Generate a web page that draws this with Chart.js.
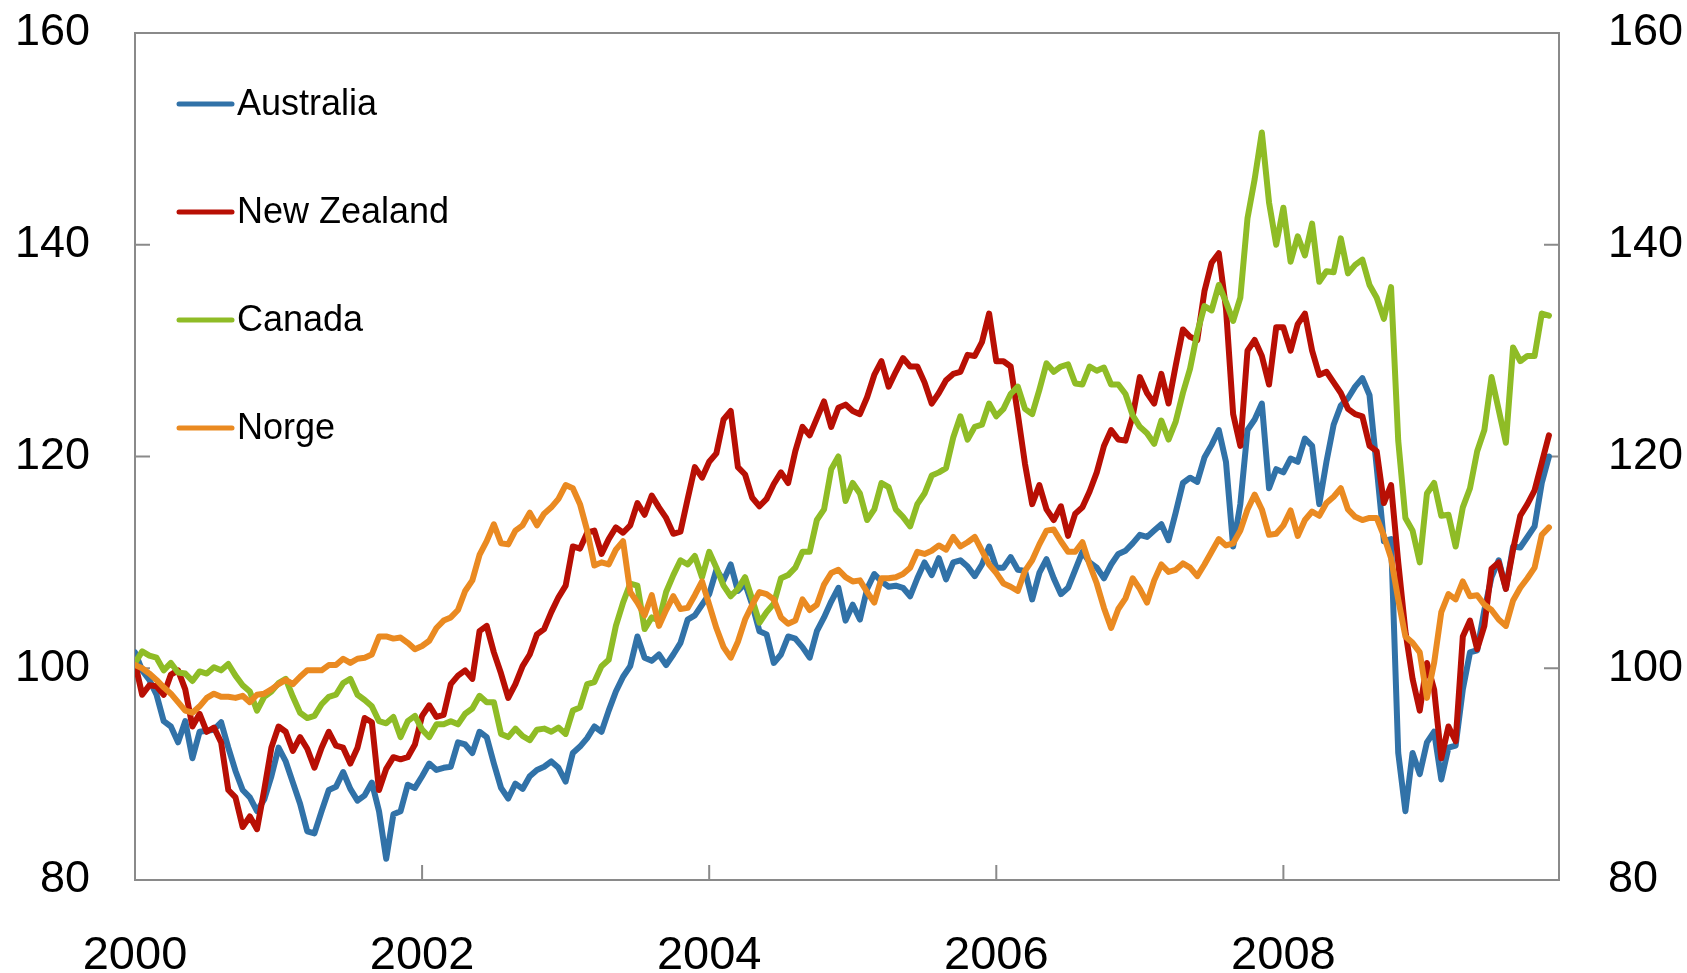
<!DOCTYPE html>
<html>
<head>
<meta charset="utf-8">
<style>
  html, body { margin: 0; padding: 0; background: #fff; }
  #wrap { width: 1687px; height: 973px; }
</style>
<script src="https://cdn.jsdelivr.net/npm/chart.js@4.4.1/dist/chart.umd.min.js"></script>
</head>
<body>
<div id="wrap"><canvas id="chart" width="1687" height="973"></canvas></div>
<script>
// sample dates as decimal years (about every 2.6 weeks)
const dates = [
  2000, 2000.05, 2000.1, 2000.15, 2000.2, 2000.25, 2000.3, 2000.35, 2000.4, 2000.45, 2000.5, 2000.55, 2000.6, 2000.65, 2000.7, 2000.75, 2000.8, 2000.85, 2000.9, 2000.95,
  2001, 2001.05, 2001.1, 2001.15, 2001.2, 2001.25, 2001.3, 2001.35, 2001.4, 2001.45, 2001.5, 2001.55, 2001.6, 2001.65, 2001.7, 2001.75, 2001.8, 2001.85, 2001.9, 2001.95,
  2002, 2002.05, 2002.1, 2002.15, 2002.2, 2002.25, 2002.3, 2002.35, 2002.4, 2002.45, 2002.5, 2002.55, 2002.6, 2002.65, 2002.7, 2002.75, 2002.8, 2002.85, 2002.9, 2002.95,
  2003, 2003.05, 2003.1, 2003.15, 2003.2, 2003.25, 2003.3, 2003.35, 2003.4, 2003.45, 2003.5, 2003.55, 2003.6, 2003.65, 2003.7, 2003.75, 2003.8, 2003.85, 2003.9, 2003.95,
  2004, 2004.05, 2004.1, 2004.15, 2004.2, 2004.25, 2004.3, 2004.35, 2004.4, 2004.45, 2004.5, 2004.55, 2004.6, 2004.65, 2004.7, 2004.75, 2004.8, 2004.85, 2004.9, 2004.95,
  2005, 2005.05, 2005.1, 2005.15, 2005.2, 2005.25, 2005.3, 2005.35, 2005.4, 2005.45, 2005.5, 2005.55, 2005.6, 2005.65, 2005.7, 2005.75, 2005.8, 2005.85, 2005.9, 2005.95,
  2006, 2006.05, 2006.1, 2006.15, 2006.2, 2006.25, 2006.3, 2006.35, 2006.4, 2006.45, 2006.5, 2006.55, 2006.6, 2006.65, 2006.7, 2006.75, 2006.8, 2006.85, 2006.9, 2006.95,
  2007, 2007.05, 2007.1, 2007.15, 2007.2, 2007.25, 2007.3, 2007.35, 2007.4, 2007.45, 2007.5, 2007.55, 2007.6, 2007.65, 2007.7, 2007.75, 2007.8, 2007.85, 2007.9, 2007.95,
  2008, 2008.05, 2008.1, 2008.15, 2008.2, 2008.25, 2008.3, 2008.35, 2008.4, 2008.45, 2008.5, 2008.55, 2008.6, 2008.65, 2008.7, 2008.75, 2008.8, 2008.85, 2008.9, 2008.95,
  2009, 2009.05, 2009.1, 2009.15, 2009.2, 2009.25, 2009.3, 2009.35, 2009.4, 2009.45, 2009.5, 2009.55, 2009.6, 2009.65, 2009.7, 2009.75, 2009.8, 2009.85
];

const australia = [
  101.5, 99.8, 98.9, 97.5, 95, 94.5, 93, 95, 91.5, 94, 94.1, 94.2, 94.9, 92.5, 90.3, 88.5, 87.8, 86.5, 87.6, 89.8,
  92.5, 91.2, 89.2, 87.2, 84.6, 84.4, 86.5, 88.5, 88.8, 90.2, 88.6, 87.5, 88, 89.2, 86.5, 82, 86.2, 86.5, 89, 88.7,
  89.8, 91, 90.4, 90.6, 90.7, 93, 92.8, 92, 94, 93.5, 91, 88.7, 87.7, 89.1, 88.6, 89.8, 90.4, 90.7, 91.2, 90.6,
  89.3, 92, 92.6, 93.4, 94.5, 94, 96, 97.8, 99.2, 100.2, 103, 101, 100.7, 101.3, 100.3, 101.3, 102.4, 104.6, 105, 106,
  107, 109.3, 108.3, 109.8, 107.3, 108, 106, 103.5, 103.2, 100.5, 101.3, 103, 102.8, 102, 101, 103.5, 104.8, 106.3, 107.6, 104.5,
  106, 104.6, 107.5, 108.9, 108.2, 107.7, 107.8, 107.6, 106.8, 108.5, 110, 108.8, 110.4, 108.4, 110, 110.2, 109.6, 108.7, 109.8, 111.5,
  109.5, 109.5, 110.5, 109.3, 109.2, 106.5, 109, 110.3, 108.5, 107, 107.6, 109.3, 111, 110, 109.5, 108.5, 109.8, 110.8, 111.1, 111.8,
  112.6, 112.4, 113, 113.6, 112.1, 114.7, 117.5, 118, 117.6, 119.9, 121.1, 122.5, 119.5, 111.5, 115.5, 122.5, 123.5, 125, 117, 118.8,
  118.5, 119.8, 119.5, 121.7, 121, 115.5, 119.5, 123, 124.8, 125.5, 126.6, 127.4, 125.8, 119, 112, 112.2, 92, 86.5, 92, 90,
  93, 94, 89.5, 92.5, 92.7, 98, 101.5, 101.7, 105.5, 108.6, 110.2, 107.5, 111.5, 111.4, 112.4, 113.4, 117.5, 120
];

const newZealand = [
  100.5, 97.5, 98.4, 98.3, 97.5, 99.4, 99.8, 98, 94.5, 95.7, 94, 94.4, 93, 88.5, 87.8, 85, 86, 84.8, 88.5, 92.5,
  94.5, 94, 92.2, 93.5, 92.4, 90.6, 92.5, 94, 92.7, 92.5, 91, 92.5, 95.3, 94.9, 88.5, 90.5, 91.6, 91.4, 91.6, 92.8,
  95.5, 96.5, 95.4, 95.6, 98.5, 99.3, 99.8, 99, 103.5, 104, 101.5, 99.5, 97.2, 98.5, 100.2, 101.3, 103.2, 103.7, 105.3, 106.7,
  107.8, 111.5, 111.3, 112.8, 113, 110.8, 112.2, 113.3, 112.8, 113.5, 115.6, 114.5, 116.3, 115.2, 114.2, 112.7, 112.9, 116, 119, 118,
  119.5, 120.3, 123.5, 124.3, 119, 118.3, 116.1, 115.3, 116, 117.4, 118.5, 117.5, 120.5, 122.8, 122, 123.6, 125.2, 122.8, 124.6, 124.9,
  124.3, 124, 125.6, 127.7, 129, 126.6, 128, 129.3, 128.5, 128.5, 127, 125, 126, 127.2, 127.8, 128, 129.6, 129.5, 130.8, 133.5,
  129, 129, 128.5, 124, 119.3, 115.5, 117.3, 115, 114, 115.3, 112.5, 114.6, 115.2, 116.7, 118.5, 121, 122.5, 121.6, 121.5, 123.8,
  127.5, 126, 125, 127.8, 125, 128.6, 132, 131.3, 131, 135.6, 138.3, 139.2, 134, 124, 121, 130, 131, 129.5, 126.8, 132.2,
  132.2, 130, 132.5, 133.5, 130, 127.7, 128, 127, 126, 124.5, 124, 123.8, 121, 120.5, 115.6, 117.3, 110, 103.5, 99, 96,
  100.5, 98, 91.5, 94.5, 93.1, 103, 104.5, 101.8, 104, 109.4, 110, 107.5, 111.2, 114.4, 115.5, 116.8, 119.4, 122
];

const canada = [
  100.5, 101.6, 101.2, 101, 99.8, 100.5, 99.6, 99.5, 98.8, 99.7, 99.5, 100.1, 99.8, 100.4, 99.3, 98.4, 97.8, 96, 97.3, 97.8,
  98.6, 99, 97.3, 95.8, 95.3, 95.5, 96.6, 97.3, 97.5, 98.6, 99, 97.5, 97, 96.4, 95, 94.8, 95.4, 93.5, 95, 95.5,
  94.2, 93.5, 94.7, 94.7, 95, 94.7, 95.7, 96.2, 97.4, 96.8, 96.8, 93.8, 93.5, 94.3, 93.6, 93.2, 94.2, 94.3, 94, 94.4,
  93.8, 96, 96.3, 98.5, 98.7, 100.2, 100.8, 104, 106.2, 108, 107.8, 103.7, 104.8, 104.5, 107.2, 108.8, 110.2, 109.8, 110.6, 108.6,
  111, 109.5, 107.8, 106.8, 107.5, 108.6, 106.5, 104.3, 105.3, 106.1, 108.5, 108.8, 109.5, 111, 111, 114, 115, 118.8, 120, 115.8,
  117.5, 116.5, 114, 115, 117.5, 117.1, 115, 114.3, 113.4, 115.5, 116.5, 118.2, 118.5, 118.9, 121.8, 123.8, 121.6, 122.8, 123, 125,
  123.8, 124.5, 125.9, 126.6, 124.5, 124, 126.3, 128.8, 128, 128.5, 128.7, 126.9, 126.8, 128.5, 128.1, 128.4, 126.8, 126.8, 125.9, 123.9,
  122.8, 122.2, 121.2, 123.4, 121.6, 123.3, 126, 128.3, 131.7, 134.2, 133.8, 136.2, 134.6, 132.8, 135, 142.5, 146.2, 150.6, 144, 140,
  143.5, 138.4, 140.8, 139, 142, 136.5, 137.5, 137.4, 140.6, 137.3, 138.1, 138.6, 136.2, 135, 133, 136, 121.5, 114.2, 113, 110,
  116.5, 117.5, 114.4, 114.5, 111.5, 115.2, 117, 120.5, 122.5, 127.5, 124.4, 121.3, 130.3, 129, 129.5, 129.5, 133.5, 133.3
];

const norge = [
  100.3, 100, 99.5, 98.9, 98.2, 97.6, 96.8, 96, 95.8, 96.4, 97.2, 97.6, 97.3, 97.3, 97.2, 97.4, 96.8, 97.5, 97.6, 98,
  98.5, 98.9, 98.5, 99.2, 99.8, 99.8, 99.8, 100.3, 100.3, 100.9, 100.5, 100.9, 101, 101.3, 103, 103, 102.8, 102.9, 102.4, 101.8,
  102.1, 102.6, 103.8, 104.5, 104.8, 105.5, 107.3, 108.3, 110.7, 112, 113.6, 111.8, 111.7, 113, 113.5, 114.7, 113.5, 114.6, 115.2, 116,
  117.3, 117, 115.5, 113, 109.7, 110, 109.8, 111.2, 112, 107.2, 106.2, 105, 106.9, 104, 105.5, 106.8, 105.6, 105.7, 106.9, 108.2,
  106, 103.8, 102, 101, 102.5, 104.6, 106, 107.2, 107, 106.5, 104.8, 104.2, 104.5, 106.5, 105.5, 106, 107.9, 109, 109.3, 108.6,
  108.2, 108.3, 107.2, 106.2, 108.5, 108.5, 108.6, 108.9, 109.5, 111, 110.8, 111.1, 111.6, 111.2, 112.4, 111.5, 111.9, 112.4, 111.1, 109.8,
  109, 108, 107.7, 107.3, 109.2, 110.2, 111.7, 113, 113.1, 112, 111, 111, 111.9, 109.8, 108, 105.7, 103.8, 105.6, 106.6, 108.5,
  107.5, 106.2, 108.3, 109.8, 109.1, 109.3, 109.9, 109.5, 108.7, 109.8, 111, 112.2, 111.6, 111.8, 113, 115, 116.4, 115, 112.6, 112.7,
  113.5, 114.9, 112.5, 114, 114.8, 114.4, 115.6, 116.2, 117, 115, 114.3, 114, 114.2, 114.2, 112.5, 110.4, 106.5, 103, 102.4, 101.5,
  97.2, 100.5, 105.3, 107, 106.5, 108.2, 106.8, 106.9, 106, 105.5, 104.6, 104, 106.4, 107.6, 108.5, 109.5, 112.6, 113.3
];

const seriesNames = ['Australia', 'New Zealand', 'Canada', 'Norge'];
const seriesColors = ['#3172a8', '#b80f04', '#8fbc26', '#ea8a21'];
const xTicks = [2000, 2002, 2004, 2006, 2008];
const yTicks = [80, 100, 120, 140, 160];

const FONT = '"Liberation Sans", Arial, sans-serif';
const frameColor = '#8a8a8a';
const tickLen = 15;

// ticks pointing into the plot, like the original
const innerTicks = {
    id: 'innerTicks',
    beforeDatasetsDraw(chart) {
        const { ctx, chartArea: a, scales } = chart;
        ctx.save();
        ctx.strokeStyle = frameColor;
        ctx.lineWidth = 2;
        ctx.beginPath();
        xTicks.forEach(v => {
            const px = scales.x.getPixelForValue(v);
            ctx.moveTo(px, a.bottom);
            ctx.lineTo(px, a.bottom - tickLen);
        });
        yTicks.forEach(v => {
            const py = scales.y.getPixelForValue(v);
            ctx.moveTo(a.left, py);
            ctx.lineTo(a.left + tickLen, py);
            ctx.moveTo(a.right, py);
            ctx.lineTo(a.right - tickLen, py);
        });
        ctx.stroke();
        ctx.restore();
    }
};

// legend stacked inside the plot, top left
const boxLegend = {
    id: 'boxLegend',
    afterDatasetsDraw(chart) {
        const { ctx, chartArea: a } = chart;
        ctx.save();
        ctx.font = `36px ${FONT}`;
        ctx.textBaseline = 'middle';
        chart.data.datasets.forEach((ds, i) => {
            const y = a.top + 71 + i * 108;
            ctx.strokeStyle = ds.borderColor;
            ctx.lineWidth = 5;
            ctx.lineCap = 'round';
            ctx.beginPath();
            ctx.moveTo(a.left + 44, y);
            ctx.lineTo(a.left + 97, y);
            ctx.stroke();
            ctx.fillStyle = '#000';
            ctx.fillText(ds.label, a.left + 102, y + 1);
        });
        ctx.restore();
    }
};

const seriesData = [australia, newZealand, canada, norge];
const datasets = seriesData.map((vals, i) => ({
    label: seriesNames[i],
    data: vals,
    borderColor: seriesColors[i],
    borderWidth: 6,
    pointRadius: 0,
    tension: 0,
    borderJoinStyle: 'round',
    borderCapStyle: 'round',
    fill: false,
    order: 4 - i
}));

// keep the plot box fixed: no extra room for half labels at the ends
function noPad(s) {
    s.paddingTop = 0; s.paddingBottom = 0; s.paddingLeft = 0; s.paddingRight = 0;
}

const tickFont = { family: FONT, size: 45 };
const yScaleBase = {
    type: 'linear', min: 80, max: 160,
    grid: { display: false },
    border: { display: true, color: frameColor, width: 2 },
    afterBuildTicks: s => { s.ticks = yTicks.map(v => ({ value: v })); }
};

new Chart(document.getElementById('chart'), {
    type: 'line',
    data: { labels: dates, datasets },
    options: {
        responsive: false,
        animation: false,
        layout: { padding: 0 },
        plugins: { legend: { display: false }, tooltip: { enabled: false } },
        scales: {
            x: {
                type: 'linear', position: 'bottom', min: 2000, max: 2009.92,
                grid: { display: false },
                border: { display: true, color: frameColor, width: 2 },
                afterBuildTicks: s => { s.ticks = xTicks.map(v => ({ value: v })); },
                ticks: { font: { family: FONT, size: 47 }, color: '#000', padding: 40, maxRotation: 0, autoSkip: false, callback: v => String(v) },
                afterFit: s => { s.height = 93; noPad(s); }
            },
            xTop: {
                type: 'linear', position: 'top', min: 2000, max: 2009.92,
                grid: { display: false },
                border: { display: true, color: frameColor, width: 2 },
                ticks: { display: false },
                afterFit: s => { s.height = 33; noPad(s); }
            },
            y: Object.assign({}, yScaleBase, {
                position: 'left',
                ticks: { font: tickFont, color: '#000', padding: 37 },
                afterFit: s => { s.width = 135; noPad(s); }
            }),
            y2: Object.assign({}, yScaleBase, {
                position: 'right',
                ticks: { font: tickFont, color: '#000', padding: 41 },
                afterFit: s => { s.width = 128; noPad(s); }
            })
        }
    },
    plugins: [innerTicks, boxLegend]
});
</script>
</body>
</html>
